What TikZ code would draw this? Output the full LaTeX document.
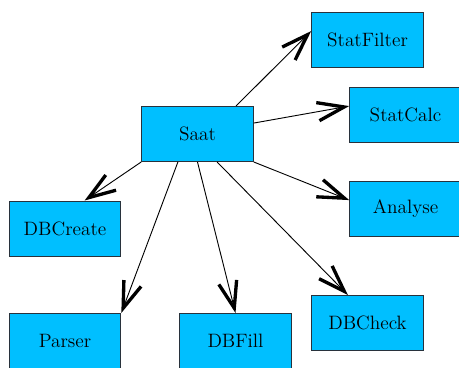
\documentclass[tikz,border=0pt]{standalone}
\usepackage{fontspec}
\usepackage{xcolor}
\definecolor{boxblue}{RGB}{0,191,255}
\definecolor{boxline}{RGB}{40,50,60}
\usepackage{tikz}
\usetikzlibrary{arrows.meta}

\begin{document}
\begin{tikzpicture}
[	x=0.6pt, y=-0.6pt,
	module/.style = {rectangle, draw=boxline, line width=0.6pt, fill=boxblue, inner sep=0,
		minimum width=67pt, minimum height=33pt, font=\fontsize{11.6}{14}\selectfont},
	call/.style = {line width=0.55pt, -{Straight Barb[length=16pt,width=11pt,line width=2pt]}}
]
\clip (0,0) rectangle (459,367);

\node[module] (saat) at (197.5,134) {Saat};
\node[module] (statfilter) at (367.5,40) {StatFilter};
\node[module] (statcalc) at (405.5,115) {StatCalc};
\node[module] (analyse) at (405.5,209) {Analyse};
\node[module] (dbcreate) at (65,228.5) {DBCreate};
\node[module] (parser) at (65,341) {Parser};
\node[module] (dbfill) at (235.5,341) {DBFill};
\node[module] (dbcheck) at (367.5,323) {DBCheck};

\draw[call] (saat.36) -- (statfilter.171);
\draw[call] (saat.11) -- (statcalc.171);
\draw[call] (saat.south east) -- (analyse.171);
\draw[call] (saat.south west) -- (dbcreate.55);
\draw[call] (saat.235) -- (parser.north east);
\draw[call] (saat.south) -- (dbfill.north);
\draw[call] (saat.305) -- (dbcheck.125);

\end{tikzpicture}
\end{document}
